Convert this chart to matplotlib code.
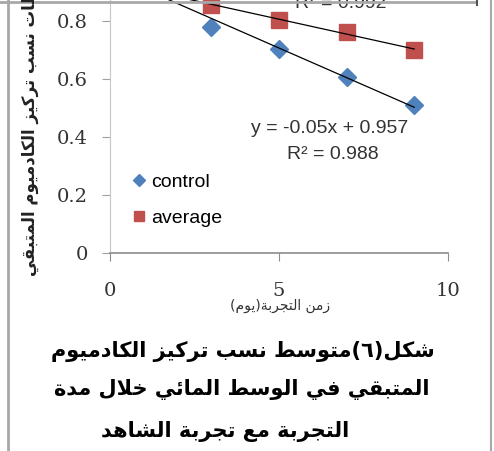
import numpy as np
import matplotlib
matplotlib.use("Agg")
import matplotlib.pyplot as plt
from matplotlib.lines import Line2D

# data (first point at day 1 sits above the cropped top)
days = [1, 3, 5, 7, 9]
control = [0.935, 0.778, 0.704, 0.607, 0.51]
average = [0.91, 0.856, 0.803, 0.762, 0.70]
x_ticks = [0, 5, 10]
y_ticks = [0, 0.2, 0.4, 0.6, 0.8]

y_title = "متوسطات نسب تركيز الكادميوم المتبقي"
x_title = "زمن التجربة(يوم)"
caption = ["شكل(٦)متوسط نسب تركيز الكادميوم",
           "المتبقي في الوسط المائي خلال مدة",
           "التجربة مع تجربة الشاهد"]
eq_control = "y = -0.05x + 0.957\nR² = 0.988"
eq_average = "y = -0.026x + 0.931\nR² = 0.992"

# minimal arabic shaping: presentation forms + reverse for display
AR = {'ا': (0xFE8D, 2), 'ب': (0xFE8F, 4), 'ة': (0xFE93, 2), 'ت': (0xFE95, 4),
      'ج': (0xFE9D, 4), 'خ': (0xFEA5, 4), 'د': (0xFEA9, 2), 'ر': (0xFEAD, 2),
      'ز': (0xFEAF, 2), 'س': (0xFEB1, 4), 'ش': (0xFEB5, 4), 'ط': (0xFEC1, 4),
      'ع': (0xFEC9, 4), 'ف': (0xFED1, 4), 'ق': (0xFED5, 4), 'ك': (0xFED9, 4),
      'ل': (0xFEDD, 4), 'م': (0xFEE1, 4), 'ن': (0xFEE5, 4), 'ه': (0xFEE9, 4),
      'و': (0xFEED, 2), 'ي': (0xFEF1, 4), 'ئ': (0xFE89, 4)}


def ar(text):
    res = []
    i = 0
    n = len(text)
    while i < n:
        c = text[i]
        if c not in AR:
            res.append(c)
            i += 1
            continue
        prev = i > 0 and text[i-1] in AR and AR[text[i-1]][1] == 4
        if c == 'ل' and i + 1 < n and text[i+1] == 'ا':
            res.append(chr(0xFEFC if prev else 0xFEFB))
            i += 2
            continue
        nxt = AR[c][1] == 4 and i + 1 < n and text[i+1] in AR
        k = {(False, False): 0, (True, False): 1, (False, True): 2, (True, True): 3}[(prev, nxt)]
        res.append(chr(AR[c][0] + k))
        i += 1
    s = "".join(res[::-1])
    return s.replace("(", "\0").replace(")", "(").replace("\0", ")")


W, H = 494, 451
fig = plt.figure(figsize=(W/100, H/100), dpi=100)
ax = fig.add_axes([110/W, 1 - 253/H, 338/W, 253/H])

blue = "#4F81BD"
red = "#C0504D"

ax.plot(days, control, ls="none", marker="D", ms=9, color=blue, label="control", zorder=3)
ax.plot(days, average, ls="none", marker="s", ms=11, color=red, label="average", zorder=3)
for vals in (control, average):
    k, b = np.polyfit(days, vals, 1)
    xs = np.array([days[0], days[-1]])
    ax.plot(xs, k*xs + b, color="black", lw=0.9, zorder=4)

ax.set_xlim(0, 10)
ax.set_ylim(0, 253/290)
ax.set_xticks(x_ticks)
ax.set_yticks(y_ticks)
ax.set_xticklabels([str(v) for v in x_ticks])
ax.set_yticklabels(["0" if v == 0 else f"{v:.1f}" for v in y_ticks])
for sp in ("top", "right"):
    ax.spines[sp].set_visible(False)
ax.spines["left"].set_color("#c8c8c8")
ax.spines["bottom"].set_color("#8c8c8c")
ax.spines["bottom"].set_linewidth(1.2)
ax.tick_params(axis="y", length=6, color="#a0a0a0", pad=10, labelsize=14)
ax.tick_params(axis="x", length=6, color="#8c8c8c", pad=15, labelsize=14)
for t in ax.get_xticklabels() + ax.get_yticklabels():
    t.set_family("DejaVu Serif")
    t.set_color("#333333")

ax.text(6.5, 0.43, eq_control.split("\n")[0], ha="center", va="center",
        fontsize=14, family="Liberation Sans", color="#333333")
ax.text(6.6, 0.338, eq_control.split("\n")[1], ha="center", va="center",
        fontsize=14, family="Liberation Sans", color="#333333")
ax.text(6.84, 0.86, eq_average.split("\n")[1], ha="center", va="center",
        fontsize=14, family="Liberation Sans", color="#333333", clip_on=False)

ax.legend(loc="upper left", bbox_to_anchor=(0.04, 0.355), frameon=False,
          prop={"family": "Liberation Sans", "size": 14}, markerscale=0.7,
          handlelength=0.6, handletextpad=0.3, labelspacing=0.95, borderpad=0)

fig.text(30/W, 1 - 110/H, ar(y_title), rotation=90, ha="center", va="center",
         fontsize=12, fontweight="bold", family="DejaVu Sans", color="#222222")
fig.text(280/W, 1 - 306/H, ar(x_title), ha="center", va="center",
         fontsize=10, family="DejaVu Sans", color="#333333")
for txt, cx, cy in zip(caption, [243, 242, 225], [352, 390, 431]):
    fig.text(cx/W, 1 - cy/H, ar(txt), ha="center", va="center",
             fontsize=15, fontweight="bold", family="DejaVu Sans", color="black")

# frame lines of the cropped page
def px_line(x0, y0, x1, y1, color, lw):
    fig.add_artist(Line2D([x0/W, x1/W], [1 - y0/H, 1 - y1/H], color=color, lw=lw))

px_line(0, 1.5, 476, 1.5, "#a8a8a8", 2)
px_line(7.5, 0, 7.5, H, "#a8a8a8", 2)
px_line(490.5, 0, 490.5, H, "#a8a8a8", 1.5)
px_line(477, 0, 477, 5, "#555555", 1.5)

fig.savefig("out.png", dpi=100)
